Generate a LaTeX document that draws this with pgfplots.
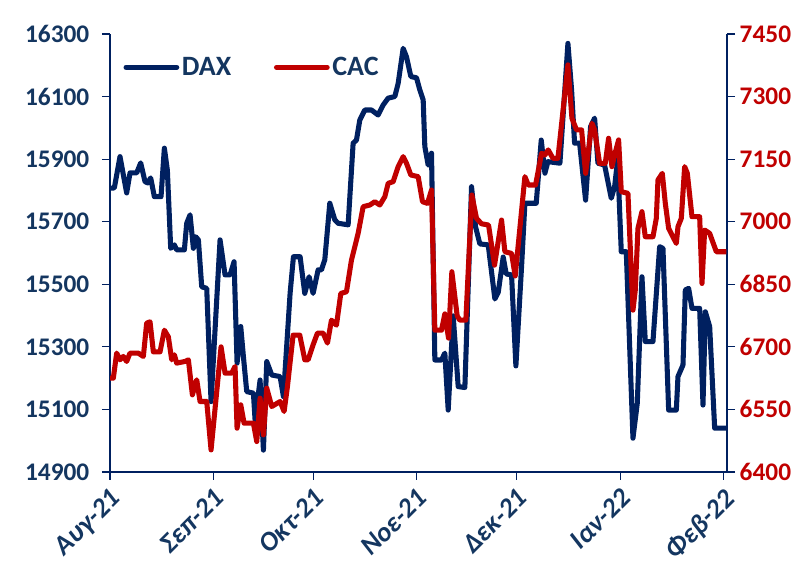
\documentclass[border=0pt]{standalone}
\usepackage{fontspec}
\setmainfont{Carlito}
\usepackage{pgfplots}
\pgfplotsset{compat=1.18}
\usepackage{pgfplotstable}
\definecolor{daxc}{RGB}{0,32,96}
\definecolor{cacc}{RGB}{192,0,0}
\definecolor{txtb}{RGB}{20,54,96}
\pgfplotstableread{
d v
0 15807
1.3 15808
3.0 15908
5.0 15792
6.0 15856
8.0 15856
9.2 15888
10.5 15828
11.3 15824
12.2 15840
13.3 15780
15.3 15780
16.3 15935
17.2 15865
18.2 15615
19.3 15626
20.0 15610
22.3 15610
23.0 15695
24.0 15722
25.0 15615
25.7 15652
26.5 15642
27.5 15492
29.0 15487
30.3 15125
33.0 15642
34.5 15530
36.0 15530
37.2 15572
38.1 15248
39.2 15365
40.0 15269
41.0 15157
43.0 15152
43.5 15066
45.0 15194
46.0 14970
47.0 15253
48.5 15210
51.0 15205
52.0 15141
54.0 15471
55.0 15588
57.0 15588
58.4 15471
59.7 15524
60.9 15471
62.4 15546
63.4 15546
64.4 15578
65.9 15759
67.4 15706
68.4 15695
71.4 15690
72.9 15951
73.9 15961
74.9 16025
76.4 16057
78.4 16057
80.4 16041
81.9 16073
83.4 16095
85.4 16100
86.4 16142
87.9 16254
88.9 16227
90.2 16164
91.9 16160
92.9 16121
93.9 16089
94.4 15940
95.4 15881
96.4 15919
97.4 15258
99.4 15258
100.4 15280
101.4 15098
102.9 15399
104.4 15173
106.4 15170
108.4 15812
109.6 15684
110.9 15629
113.4 15626
115.4 15453
116.4 15474
117.9 15587
118.8 15533
120.4 15530
121.7 15239
123.4 15556
124.4 15759
127.8 15759
129.3 15961
130.4 15855
131.3 15892
134.9 15887
137.3 16270
138.4 16121
139.3 15951
140.8 15951
142.6 15769
144.1 16004
145.3 16031
146.3 15887
148.3 15881
150.3 15775
151.3 15812
152.2 15897
153.3 15604
154.8 15604
156.8 15008
158.1 15120
159.5 15524
160.5 15317
162.8 15317
164.8 15620
165.8 15615
167.5 15098
169.8 15098
170.3 15205
171.8 15242
172.5 15482
173.5 15487
174.5 15423
176.8 15423
177.8 15114
178.5 15412
179.8 15365
181.3 15040
184.8 15040
}\daxdata
\pgfplotstableread{
d v
0 6625
1.0 6625
2.0 6685
3.0 6669
4.0 6677
5.0 6665
6.0 6685
8.5 6685
10.0 6677
11.0 6757
12.0 6760
13.0 6688
15.0 6688
16.3 6740
17.5 6724
18.5 6669
19.3 6681
20.0 6661
22.5 6665
23.5 6669
24.7 6585
26.0 6621
27.0 6569
29.0 6569
30.3 6453
33.3 6700
34.5 6637
36.5 6637
37.5 6653
38.1 6505
39.2 6561
40.2 6517
43.0 6517
44.0 6473
45.0 6577
46.0 6489
47.0 6601
48.5 6557
51.0 6569
52.2 6545
53.2 6605
54.9 6728
56.9 6728
58.4 6669
59.4 6669
60.9 6705
62.2 6733
63.9 6733
65.2 6709
66.4 6764
67.9 6752
69.2 6828
70.9 6832
72.4 6908
74.4 6972
75.9 7036
77.9 7040
79.4 7048
80.9 7040
82.4 7060
83.4 7092
84.9 7096
86.4 7132
87.9 7156
88.9 7140
90.2 7112
92.4 7108
93.7 7048
95.2 7044
96.4 7076
97.4 6740
99.4 6740
100.4 6779
101.5 6721
102.5 6880
104.1 6774
104.9 6764
106.7 6764
108.5 7064
109.9 7008
111.4 6995
113.5 6992
115.3 6896
117.4 7004
118.4 6928
120.4 6924
121.5 6870
124.4 7108
125.4 7088
127.6 7088
129.4 7164
130.4 7160
131.4 7172
132.8 7152
134.3 7152
137.3 7376
138.5 7248
139.9 7220
141.4 7220
142.6 7116
144.5 7236
145.3 7220
146.8 7140
148.5 7140
149.5 7200
150.5 7132
151.3 7160
152.5 7196
153.3 7072
155.3 7068
156.8 6788
157.5 6836
158.3 6984
159.5 7024
160.5 6964
162.8 6964
163.8 7008
164.3 7100
165.6 7116
166.5 7044
167.5 6984
169.8 6948
170.3 6988
171.3 7008
172.3 7132
173.1 7116
174.5 7012
176.8 7012
177.5 6852
178.3 6980
179.8 6972
181.8 6928
184.8 6928
}\cacdata
\pgfplotsset{
  common/.style={
    scale only axis,
    width=462.75pt, height=328.5pt,
    xmin=0, xmax=185,
    scaled ticks=false,
    /pgf/number format/assume math mode=true,
    /pgf/number format/1000 sep={},
    ticklabel style={font=\bfseries\fontsize{19}{21}\selectfont},
    major tick length=6pt,
    tick align=outside,
    axis line style={daxc, line width=0.9pt},
    every tick/.style={daxc, line width=0.9pt},
    line join=round,
  }
}
\begin{document}
\begin{tikzpicture}
\begin{axis}[common, name=ax,
  axis x line*=bottom, axis y line*=left,
  ymin=14900, ymax=16300, ytick={14900,15100,...,16300},
  yticklabel style={text=txtb, xshift=-6pt},
  xtick={0,31,61,92,122,153,184},
  xticklabels={Αυγ-21,Σεπ-21,Οκτ-21,Νοε-21,Δεκ-21,Ιαν-22,Φεβ-22},
  xticklabel style={text=txtb, rotate=45, anchor=north east, inner sep=2pt, xshift=-2pt, yshift=-1pt, font=\bfseries\itshape\fontsize{20.5}{22}\selectfont},
]
\addplot[daxc, line width=3.8pt, no marks] table[x=d, y=v] {\daxdata};
\end{axis}
\begin{axis}[common,
  axis x line=none, axis y line*=right,
  ymin=6400, ymax=7450, ytick={6400,6550,...,7450},
  yticklabel style={text=cacc},
  legend style={draw=none, fill=none, at={(0.015,0.96)}, anchor=north west,
    font=\bfseries\fontsize{21}{23}\selectfont, text=txtb,
    /tikz/every even column/.style={column sep=30pt}},
  legend columns=2,
  legend image code/.code={\draw[#1, line cap=round] (0pt,0pt) -- (38pt,0pt);},
]
\addlegendimage{daxc, line width=3.8pt}
\addlegendentry{DAX}
\addplot[cacc, line width=3.8pt, no marks] table[x=d, y=v] {\cacdata};
\addlegendentry{CAC}
\end{axis}
\pgfresetboundingbox
\path[use as bounding box] ([shift={(-82.5pt,-70.5pt)}]ax.south west) rectangle ([shift={(61.5pt,25.5pt)}]ax.north east);
\end{tikzpicture}
\end{document}
